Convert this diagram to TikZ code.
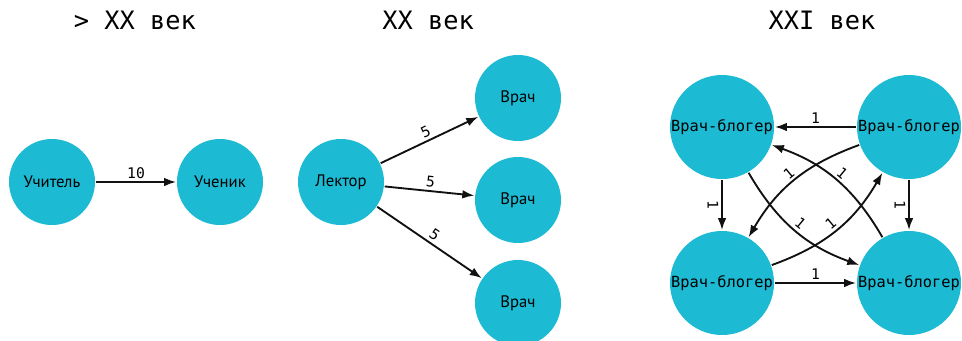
\documentclass[tikz,border=0pt]{standalone}
\usepackage{fontspec}
\setmainfont{PT Sans}
\setmonofont{DejaVu Sans Mono}
\usetikzlibrary{arrows.meta}
\definecolor{nodecyan}{RGB}{29,186,211}
\definecolor{edgeblack}{RGB}{17,17,17}
\begin{document}
\begin{tikzpicture}[x=0.75pt,y=0.75pt,line width=1.4pt,draw=edgeblack,>={Latex[length=9pt,width=6.5pt]}]
\tikzstyle{person}=[circle, fill=nodecyan, minimum size=64.5pt, inner sep=0pt, font=\fontsize{12.5}{14}\selectfont]
\tikzstyle{blogger}=[circle, fill=nodecyan, minimum size=78pt, inner sep=0pt, font=\ttfamily\fontsize{11.5}{13}\selectfont]
\tikzstyle{title}=[font=\ttfamily\fontsize{19}{22}\selectfont]
\tikzstyle{weight}=[font=\ttfamily\fontsize{11}{12}\selectfont, inner sep=2pt]
\useasboundingbox (0,0) rectangle (962,-340);

\node[title] (T1) at (135,-20) {> XX век};
\node[title] (T2) at (428,-20) {XX век};
\node[title] (T3) at (822,-20) {XXI век};

\node[person] (U)  at ( 52,-182) {Учитель};
\node[person] (S)  at (220,-182) {Ученик};
\draw[->] (U) -- (S)
    node [midway, above, weight] {10};

\node[person] (L)  at (341,-182) {Лектор};
\node[person] (D1) at (518, -98) {Врач};
\node[person] (D2) at (518,-200) {Врач};
\node[person] (D3) at (518,-303) {Врач};
\draw[->] (L) -- (D1)
    node [midway, above, sloped, weight] {5};
\draw[->] (L) -- (D2)
    node [midway, above, sloped, weight] {5};
\draw[->] (L) -- (D3)
    node [midway, above, sloped, weight] {5};

\node[blogger] (B1) at (722,-127) {Врач-блогер};
\node[blogger] (B2) at (909,-127) {Врач-блогер};
\node[blogger] (B3) at (722,-283) {Врач-блогер};
\node[blogger] (B4) at (909,-283) {Врач-блогер};
\draw[->] (B2) -- (B1)
    node [midway, above, weight] {1};
\draw[->] (B3) -- (B4)
    node [midway, above, weight] {1};
\draw[->] (B1) -- (B3)
    node [midway, below, sloped, weight] {1};
\draw[->] (B2) -- (B4)
    node [midway, below, sloped, weight] {1};
\draw[->] (B2) to[bend right=20]
    node [midway, above, sloped, weight] {1} (B3);
\draw[->] (B3) to[bend right=20]
    node [midway, above, sloped, weight] {1} (B2);
\draw[->] (B1) to[bend right=20]
    node [midway, above, sloped, weight] {1} (B4);
\draw[->] (B4) to[bend right=20]
    node [midway, above, sloped, weight] {1} (B1);
\end{tikzpicture}
\end{document}
